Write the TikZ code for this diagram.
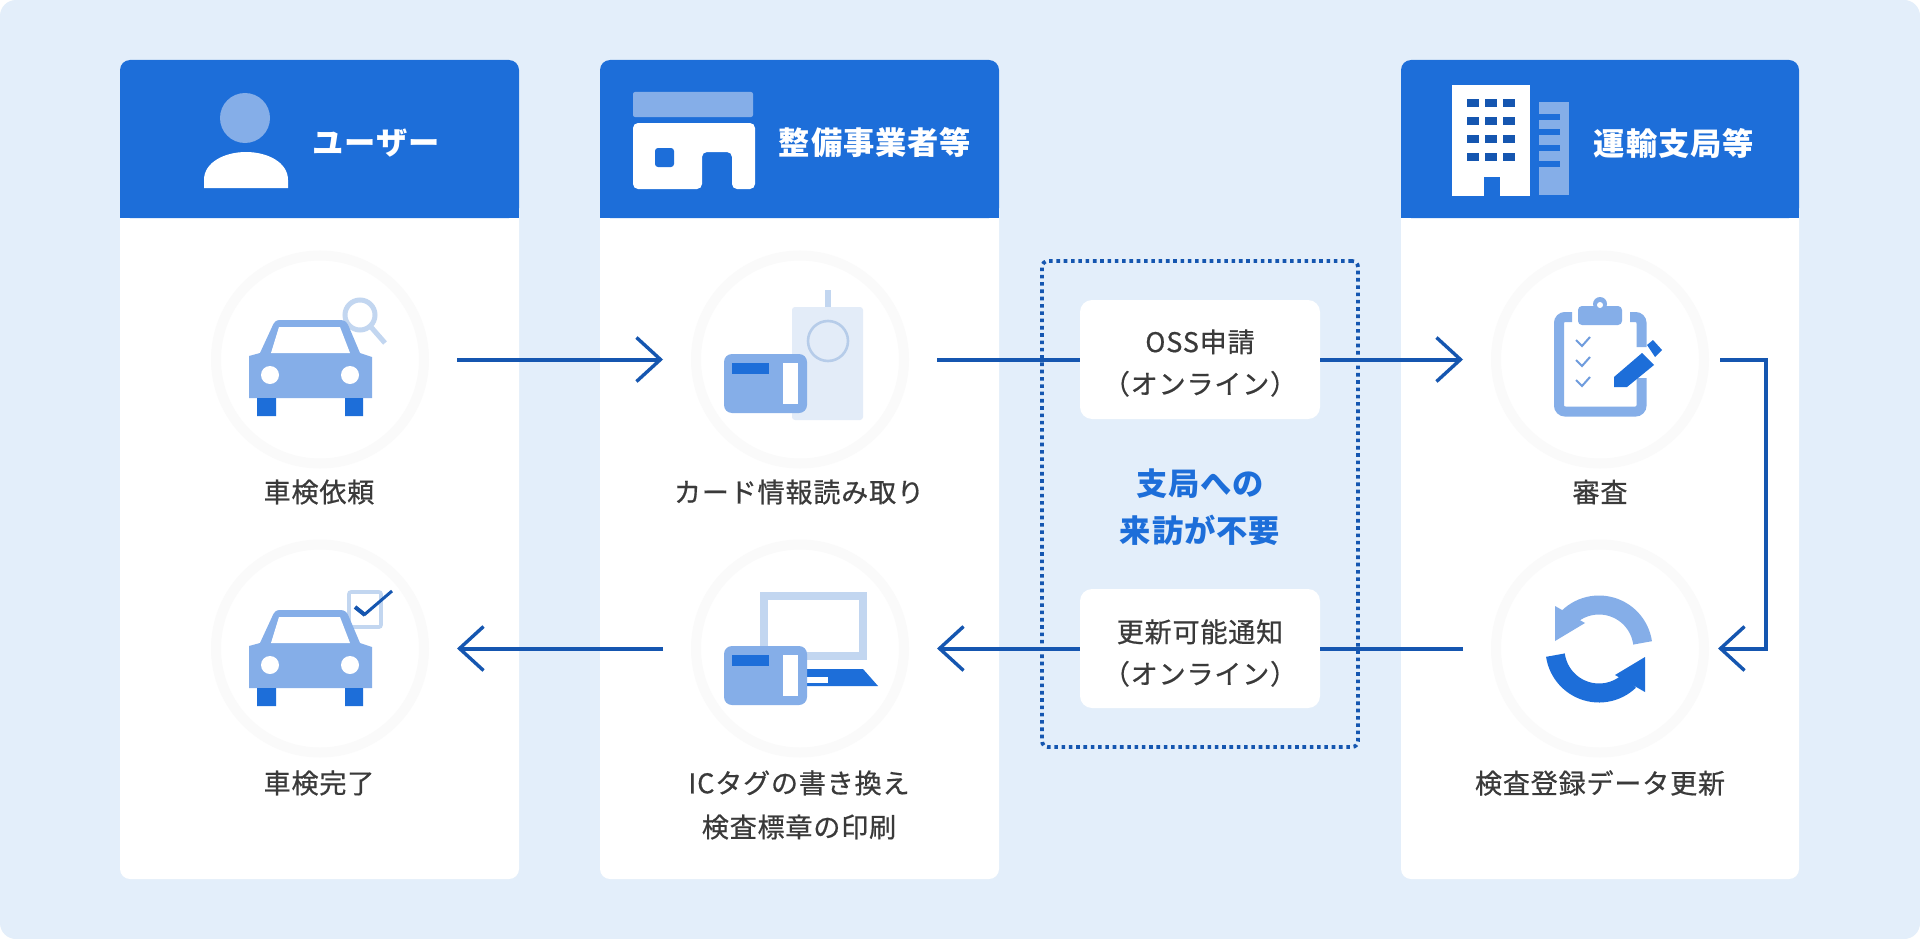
\documentclass[tikz,border=0pt]{standalone}
\usepackage{fontspec}
\usepackage{xcolor}
\usetikzlibrary{arrows.meta,positioning,calc}
\newfontfamily\jpfont[LetterSpace=3]{Noto Sans CJK JP}
\newfontfamily\jpheavy[LetterSpace=3,FakeBold=0.6]{Noto Sans CJK JP}
\definecolor{panelblue}{RGB}{227,238,250}
\definecolor{headerblue}{RGB}{29,110,217}
\definecolor{softblue}{RGB}{133,174,232}
\definecolor{paleblue}{RGB}{227,236,248}
\definecolor{mistblue}{RGB}{194,214,240}
\definecolor{lineblue}{RGB}{21,86,176}
\definecolor{ringgray}{RGB}{250,250,250}
\definecolor{textgray}{RGB}{58,58,58}
\tikzset{
    cardbox/.style={fill=white, rounded corners=5mm},
    headbox/.style={fill=headerblue, rounded corners=5mm},
    headtext/.style={text=white, font=\jpfont\bfseries\fontsize{44.5}{50}\selectfont, inner sep=0pt},
    stepcircle/.style={circle, draw=ringgray, line width=5mm, fill=white, minimum size=104mm, inner sep=0pt, outer sep=16.5mm},
    steptext/.style={text=textgray, font=\jpheavy\fontsize{38.5}{62.6}\selectfont, align=center, inner sep=0pt},
    notebox/.style={fill=white, rounded corners=6mm, minimum width=120mm, minimum height=59.5mm, inner sep=0pt},
    notetext/.style={text=textgray, font=\jpheavy\fontsize{38.5}{59.7}\selectfont, align=center, inner sep=0pt},
    dotbox/.style={draw=lineblue, line width=1.9mm, dash pattern=on 1.8mm off 1.85mm, rounded corners=3mm,
        minimum width=158mm, minimum height=243mm, inner sep=0pt},
    flowline/.style={draw=lineblue, line width=2mm},
    flowarrow/.style={flowline, -{Straight Barb[length=12mm,width=22mm,line width=1.7mm]}},
    caricon/.pic={
        \fill[softblue] (249,398) -- (249,356) -- (260,353) -- (272,327)
            .. controls (274,322) and (276,320) .. (280,320) -- (340,320)
            .. controls (345,320) and (347,322) .. (349,327) -- (360,353) -- (372,357) -- (372,398) -- cycle;
        \fill[white] (279,327) -- (340,327) -- (350,353) -- (271,353) -- cycle;
        \fill[white] (270,375) circle (9) (350,375) circle (9);
        \fill[headerblue] (257,398) rectangle (276,416) (345,398) rectangle (363,416);
    },
    cardicon/.pic={
        \fill[softblue, rounded corners=4mm] (724,354) rectangle (807,413);
        \fill[headerblue] (732,363) rectangle (769,374);
        \fill[white] (783,363) rectangle (798,404);
    },
}
\begin{document}
\begin{tikzpicture}[x=0.5mm,y=-0.5mm]
    \useasboundingbox (0,0) rectangle (1920,939);
    \fill[white] (0,0) rectangle (1920,939);
    \fill[panelblue, rounded corners=8mm] (0,0) rectangle (1920,939);

    % Columns
    \foreach \x/\w in {120/519,600/999,1401/1799} {
        \fill[cardbox] (\x,60) rectangle (\w,879);
        \fill[headbox] (\x,60) -- (\w,60) -- (\w,218) -- (\x,218) -- cycle;
        \fill[headerblue] (\x,80) rectangle (\w,218);
    }

    % Header icons
    \fill[softblue] (245,118) circle (25);
    \fill[white] (204,188) -- (204,180) .. controls (204,162) and (225,152) .. (246,152)
        .. controls (267,152) and (288,162) .. (288,180) -- (288,188) -- cycle;
    \fill[softblue, rounded corners=1mm] (633,92) rectangle (753,117);
    \fill[white, rounded corners=2.5mm] (633,123) -- (755,123) -- (755,189) -- (732,189)
        -- (732,152) -- (702,152) -- (702,189) -- (633,189) -- cycle;
    \fill[headerblue, rounded corners=1.5mm] (655,148) rectangle (674,167);
    \fill[white] (1452,85) rectangle (1530,196);
    \fill[headerblue] (1484,177) rectangle (1500,196);
    \foreach \x in {1467,1485,1503}
        \foreach \y in {99,117,135,153}
            \fill[lineblue] (\x,\y) rectangle ++(12,8);
    \fill[softblue] (1539,102) rectangle (1569,195);
    \foreach \y in {114,129,145,161}
        \fill[headerblue] (1539,\y) rectangle ++(21,6);

    % Header labels
    \node[headtext] (useritem) at (376,143) {ユーザー};
    \node[headtext] (shopitem) at (875,143) {整備事業者等};
    \node[headtext] (officeitem) at (1674,143) {運輸支局等};

    % Step circles
    \node[stepcircle] (carask) at (320,359.5) {};
    \node[stepcircle] (cardread) at (800,359.5) {};
    \node[stepcircle] (review) at (1600,359.5) {};
    \node[stepcircle] (cardone) at (320,648.5) {};
    \node[stepcircle] (tagwrite) at (800,648.5) {};
    \node[stepcircle] (update) at (1600,648.5) {};

    % Car icons
    \draw[mistblue, line width=2.5mm] (360,315) circle (15) (371,327) -- (385,343);
    \pic at (0,0) {caricon};
    \draw[mistblue, line width=1.8mm, fill=white, rounded corners=1mm] (349,592) rectangle (381,627);
    \pic at (0,290) {caricon};
    \draw[lineblue, line width=2mm] (355,607) -- (365,615);
    \draw[lineblue, line width=1.5mm] (364,615) -- (392,591);

    % Reader and laptop icons
    \fill[paleblue, rounded corners=1.5mm] (792,307) rectangle (863,420);
    \fill[mistblue] (825,290) rectangle (831,307);
    \draw[mistblue!75!lineblue!70, line width=1.3mm] (828,341) circle (20);
    \pic at (0,0) {cardicon};
    \draw[mistblue, line width=4mm] (764,596) rectangle (863,656);
    \fill[headerblue] (800,669) -- (863,669) -- (878,686) -- (800,686) -- cycle;
    \fill[white] (800,677) rectangle (828,683);
    \pic at (0,292) {cardicon};

    % Clipboard
    \draw[softblue, line width=5mm, rounded corners=3mm] (1572,317) -- (1559,317) -- (1559,411.5)
        -- (1641.5,411.5) -- (1641.5,378);
    \draw[softblue, line width=5mm, rounded corners=3mm] (1630,317) -- (1641.5,317) -- (1641.5,347);
    \fill[softblue, rounded corners=2mm] (1578,306) rectangle (1622,325);
    \fill[softblue] (1600,304) circle (7);
    \fill[white] (1600,305) circle (3);
    \foreach \y in {340,360,380}
        \draw[softblue!80!lineblue, line width=1mm] (1576,\y) -- (1582,\y+6) -- (1590,\y-3);
    \fill[headerblue] (1614,377) -- (1642,353) -- (1654,365) -- (1627,387) -- (1614,387) -- cycle;
    \fill[headerblue] (1647,345) -- (1653,340) -- (1662,350) -- (1655,357) -- cycle;

    % Refresh arrows
    \draw[softblue, line width=9.5mm] plot[domain=8:134,samples=30] ({1599+44*cos(\x)},{649-44*sin(\x)});
    \fill[softblue] (1555,606) -- (1555,641) -- (1585,623) -- cycle;
    \draw[headerblue, line width=9.5mm] plot[domain=188:314,samples=30] ({1599+44*cos(\x)},{649-44*sin(\x)});
    \fill[headerblue] (1645,657) -- (1645,692) -- (1615,675) -- cycle;

    % Step labels
    \node[steptext] (askitem) at (319,492) {車検依頼};
    \node[steptext] (readitem) at (799,492) {カード情報読み取り};
    \node[steptext] (reviewitem) at (1600,492) {審査};
    \node[steptext] (doneitem) at (319,783) {車検完了};
    \node[steptext] (writeitem) at (799,805) {ICタグの書き換え\\検査標章の印刷};
    \node[steptext] (updateitem) at (1600,783) {検査登録データ更新};

    % Middle panel
    \node[dotbox] (nopanel) at (1200,504) {};
    \node[notebox] (ossbox) at (1200,359.5) {};
    \node[notetext] (ossitem) at (1200,363) {OSS申請\\（オンライン）};
    \node[notebox] (noticebox) at (1200,648.5) {};
    \node[notetext] (noticeitem) at (1200,653) {更新可能通知\\（オンライン）};
    \node[text=headerblue, font=\jpfont\bfseries\fontsize{44.5}{66}\selectfont, align=center, inner sep=0pt]
        (novisit) at (1200,507) {支局への\\来訪が不要};

    % Arrows
    \coordinate (reviewout) at (1720,359.5);
    \coordinate (updatein) at (1718,648.5);
    \draw[flowarrow] (carask.east) -- (cardread.west);
    \draw[flowline] (cardread.east) -- (ossbox.west);
    \draw[flowarrow] (ossbox.east) -- (review.west);
    \draw[flowarrow] (reviewout) -- ++(46,0) |- (updatein);
    \draw[flowline] (update.west) -- (noticebox.east);
    \draw[flowarrow] (noticebox.west) -- (tagwrite.east);
    \draw[flowarrow] (tagwrite.west) -- (cardone.east);
\end{tikzpicture}
\end{document}
